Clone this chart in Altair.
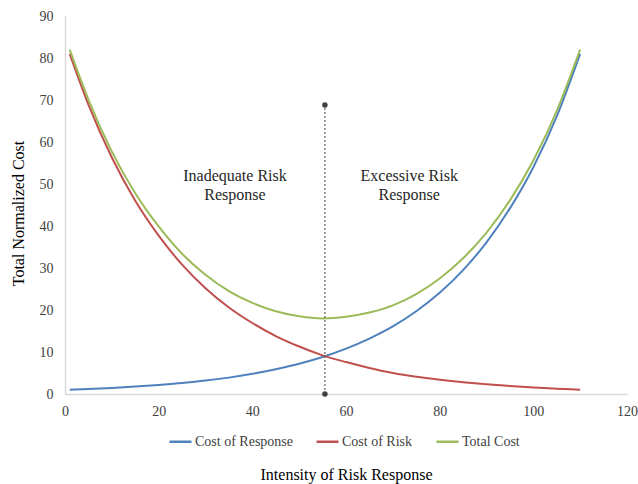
import altair as alt
import pandas as pd

x_vals = [1, 5, 10, 15, 20, 25, 30, 35, 40, 45, 50, 55, 60, 65, 70, 75, 80, 85, 90, 95, 100, 105, 110]
cost_response = [1.0, 1.17, 1.44, 1.76, 2.15, 2.6, 3.2, 3.9, 4.8, 5.9, 7.2, 8.8, 10.8, 13.2, 16.1, 19.7, 24.1, 29.5, 36.1, 44.2, 54.0, 66.1, 81.0]
cost_risk = [81.0, 68.9, 56.3, 46.0, 37.7, 30.8, 25.2, 20.6, 16.9, 13.8, 11.3, 9.2, 7.6, 6.2, 5.0, 4.1, 3.4, 2.8, 2.3, 1.9, 1.55, 1.27, 1.0]
total_cost = [82.0, 70.1, 57.7, 47.8, 39.9, 33.4, 28.4, 24.5, 21.7, 19.7, 18.5, 18.0, 18.4, 19.4, 21.1, 23.8, 27.5, 32.3, 38.4, 46.1, 55.6, 67.4, 82.0]

series_names = ["Cost of Response", "Cost of Risk", "Total Cost"]
series_colors = ["#4F81BD", "#C0504D", "#9BBB59"]

marker_x = [55.5, 55.5]
marker_y = [0, 68.8]

label_x = [36.3, 36.3, 73.5, 73.5]
label_y = [52.0, 47.3, 52.0, 47.3]
label_text = ["Inadequate Risk", "Response", "Excessive Risk", "Response"]

FONT = "'Liberation Serif', 'Times New Roman', 'DejaVu Serif', serif"

rows = []
for name, vals in zip(series_names, [cost_response, cost_risk, total_cost]):
    for xv, yv in zip(x_vals, vals):
        rows.append({"x": xv, "y": yv, "series": name})
df = pd.DataFrame(rows)

xscale = alt.Scale(domain=[0, 120], nice=False)
yscale = alt.Scale(domain=[0, 90], nice=False)

lines = alt.Chart(df).mark_line(strokeWidth=2, interpolate="monotone").encode(
    x=alt.X("x:Q", scale=xscale,
            axis=alt.Axis(title="Intensity  of Risk Response", values=[0, 20, 40, 60, 80, 100, 120],
                          grid=False, ticks=False, domainColor="#d9d9d9", domainWidth=1.5,
                          labelFlush=False, labelPadding=10, titlePadding=48)),
    y=alt.Y("y:Q", scale=yscale,
            axis=alt.Axis(title="Total Normalized Cost", values=list(range(0, 91, 10)),
                          grid=False, ticks=False, domainColor="#d9d9d9", domainWidth=1.5,
                          labelPadding=12, titlePadding=13, titleY=197)),
    color=alt.Color("series:N", sort=series_names,
                    scale=alt.Scale(domain=series_names, range=series_colors),
                    legend=alt.Legend(title=None, orient="none", direction="horizontal",
                                      legendX=103, legendY=413, symbolType="stroke",
                                      symbolStrokeWidth=2.5, symbolSize=484, labelFontSize=14,
                                      labelFont=FONT, labelColor="#404040", columnPadding=18,
                                      labelOffset=2)),
)

mdf = pd.DataFrame({"x": [marker_x[0]], "y": [marker_y[0]], "y2": [marker_y[1]]})
rule = alt.Chart(mdf).mark_rule(color="#404040", strokeDash=[2, 2], strokeWidth=1).encode(
    x="x:Q", y="y:Q", y2="y2:Q")
pdf = pd.DataFrame({"x": marker_x, "y": marker_y})
dots = alt.Chart(pdf).mark_circle(color="#404040", size=30, opacity=1).encode(x="x:Q", y="y:Q")

ldf = pd.DataFrame({"x": label_x, "y": label_y, "t": label_text})
labels = alt.Chart(ldf).mark_text(font=FONT, fontSize=16, color="#262626").encode(
    x="x:Q", y="y:Q", text="t:N")

chart = alt.layer(lines, rule, dots, labels).properties(
    width=562, height=378,
    autosize=alt.AutoSizeParams(type="none"),
    padding={"left": 65, "top": 16, "right": 11, "bottom": 90},
).configure_view(stroke=None).configure_axis(
    labelFont=FONT, titleFont=FONT, labelFontSize=14, titleFontSize=16,
    labelColor="#404040", titleColor="#000000", titleFontWeight="normal"
)

chart.save("out.html", embed_options={"renderer": "svg", "actions": False})
